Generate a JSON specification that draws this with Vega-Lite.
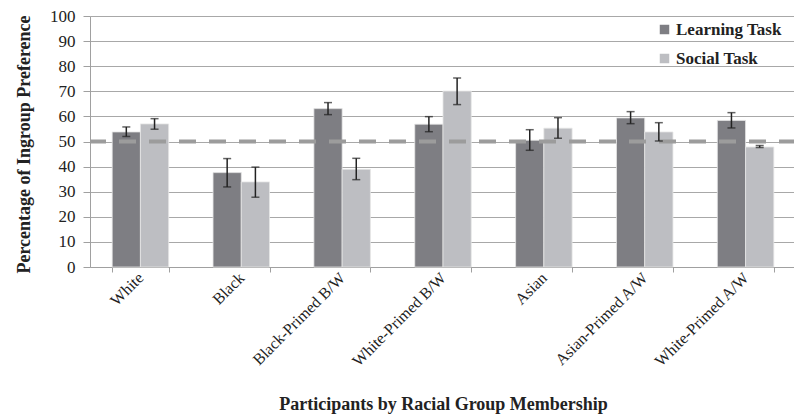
{
  "$schema": "https://vega.github.io/schema/vega-lite/v6.json",
  "width": 706,
  "height": 251,
  "autosize": {"type": "none"},
  "padding": {"left": 90, "top": 16, "right": 0, "bottom": 148},
  "background": "white",
  "config": {
    "view": {"stroke": null},
    "font": "Liberation Serif",
    "axis": {"labelFont": "Liberation Serif", "titleFont": "Liberation Serif", "labelColor": "#222222", "titleColor": "#222222"},
    "legend": {"labelFont": "Liberation Serif", "labelFontSize": 17, "labelFontWeight": "bold", "labelColor": "#222222"}
  },
  "data": {
    "values": [
      {"group": "White", "task": "Learning Task", "value": 53.8, "lo": 52.0, "hi": 55.8},
      {"group": "White", "task": "Social Task", "value": 57.0, "lo": 54.9, "hi": 59.1},
      {"group": "Black", "task": "Learning Task", "value": 37.6, "lo": 31.9, "hi": 43.2},
      {"group": "Black", "task": "Social Task", "value": 33.9, "lo": 27.8, "hi": 39.8},
      {"group": "Black-Primed B/W", "task": "Learning Task", "value": 63.1, "lo": 60.7, "hi": 65.5},
      {"group": "Black-Primed B/W", "task": "Social Task", "value": 38.9, "lo": 34.8, "hi": 43.3},
      {"group": "White-Primed B/W", "task": "Learning Task", "value": 56.9, "lo": 53.9, "hi": 59.9},
      {"group": "White-Primed B/W", "task": "Social Task", "value": 70.1, "lo": 64.7, "hi": 75.3},
      {"group": "Asian", "task": "Learning Task", "value": 50.5, "lo": 46.5, "hi": 54.7},
      {"group": "Asian", "task": "Social Task", "value": 55.3, "lo": 51.3, "hi": 59.5},
      {"group": "Asian-Primed A/W", "task": "Learning Task", "value": 59.4, "lo": 57.1, "hi": 61.9},
      {"group": "Asian-Primed A/W", "task": "Social Task", "value": 53.8, "lo": 50.2, "hi": 57.5},
      {"group": "White-Primed A/W", "task": "Learning Task", "value": 58.4, "lo": 55.4, "hi": 61.5},
      {"group": "White-Primed A/W", "task": "Social Task", "value": 47.8, "lo": 47.6, "hi": 48.4}
    ]
  },
  "layer": [
    {
      "mark": {"type": "bar", "stroke": "#e6e6e6", "strokeWidth": 0.8},
      "encoding": {
        "x": {
          "field": "group", "type": "nominal", "sort": null,
          "scale": {"paddingInner": 0.44, "paddingOuter": 0.22},
          "axis": {
            "title": "Participants by Racial Group Membership",
            "titleFontSize": 18, "titleFontWeight": "bold",
            "titleBaseline": "alphabetic", "titleY": 142,
            "labelAngle": -45, "labelFontSize": 16, "labelPadding": 3, "labelBaseline": "middle",
            "tickBand": "extent", "tickSize": 5, "tickColor": "#a0a0a0",
            "domainColor": "#a0a0a0", "grid": false
          }
        },
        "xOffset": {"field": "task", "type": "nominal", "scale": {"paddingInner": 0, "paddingOuter": 0}},
        "y": {
          "field": "value", "type": "quantitative",
          "scale": {"domain": [0, 100], "nice": false},
          "axis": {
            "title": "Percentage of Ingroup Preference",
            "titleFontSize": 18, "titleFontWeight": "bold",
            "titleBaseline": "alphabetic", "titleX": -61, "titleY": 128,
            "values": [0, 10, 20, 30, 40, 50, 60, 70, 80, 90, 100],
            "labelOverlap": false,
            "labelFontSize": 17, "labelPadding": 8, "tickSize": 7,
            "tickColor": "#a0a0a0", "domainColor": "#a0a0a0",
            "gridColor": "#a8a8a8", "gridWidth": 1.2
          }
        },
        "color": {
          "field": "task", "type": "nominal",
          "scale": {"domain": ["Learning Task", "Social Task"], "range": ["#7e7e83", "#bdbec2"]},
          "legend": {
            "title": null, "orient": "none", "legendX": 566, "legendY": 5,
            "symbolType": "square", "symbolSize": 90, "symbolStrokeWidth": 0,
            "labelFontSize": 17, "labelFontWeight": "bold", "labelColor": "#222222",
            "labelFont": "Liberation Serif", "rowPadding": 11, "labelOffset": 3
          }
        }
      }
    },
    {
      "data": {"values": [{"ref": 50}]},
      "mark": {"type": "rule", "color": "#9c9c9c", "strokeWidth": 4, "strokeDash": [17, 13]},
      "encoding": {
        "y": {
          "field": "ref", "type": "quantitative",
          "axis": {
            "title": "Percentage of Ingroup Preference",
            "titleFontSize": 18, "titleFontWeight": "bold",
            "titleBaseline": "alphabetic", "titleX": -61, "titleY": 128,
            "values": [0, 10, 20, 30, 40, 50, 60, 70, 80, 90, 100],
            "labelOverlap": false,
            "labelFontSize": 17, "labelPadding": 8, "tickSize": 7,
            "tickColor": "#a0a0a0", "domainColor": "#a0a0a0",
            "gridColor": "#a8a8a8", "gridWidth": 1.2
          }
        }
      }
    },
    {
      "mark": {"type": "rule", "color": "#222222", "strokeWidth": 1.5},
      "encoding": {
        "x": {
          "field": "group", "type": "nominal", "sort": null,
          "axis": {
            "title": "Participants by Racial Group Membership",
            "titleFontSize": 18, "titleFontWeight": "bold",
            "titleBaseline": "alphabetic", "titleY": 142,
            "labelAngle": -45, "labelFontSize": 16, "labelPadding": 3, "labelBaseline": "middle",
            "tickBand": "extent", "tickSize": 5, "tickColor": "#a0a0a0",
            "domainColor": "#a0a0a0", "grid": false
          }
        },
        "xOffset": {"field": "task", "type": "nominal"},
        "y": {
          "field": "lo", "type": "quantitative",
          "axis": {
            "title": "Percentage of Ingroup Preference",
            "titleFontSize": 18, "titleFontWeight": "bold",
            "titleBaseline": "alphabetic", "titleX": -61, "titleY": 128,
            "values": [0, 10, 20, 30, 40, 50, 60, 70, 80, 90, 100],
            "labelOverlap": false,
            "labelFontSize": 17, "labelPadding": 8, "tickSize": 7,
            "tickColor": "#a0a0a0", "domainColor": "#a0a0a0",
            "gridColor": "#a8a8a8", "gridWidth": 1.2
          }
        },
        "y2": {"field": "hi"}
      }
    },
    {
      "mark": {"type": "tick", "color": "#222222", "thickness": 1.5, "size": 8, "orient": "horizontal"},
      "encoding": {
        "x": {
          "field": "group", "type": "nominal", "sort": null,
          "axis": {
            "title": "Participants by Racial Group Membership",
            "titleFontSize": 18, "titleFontWeight": "bold",
            "titleBaseline": "alphabetic", "titleY": 142,
            "labelAngle": -45, "labelFontSize": 16, "labelPadding": 3, "labelBaseline": "middle",
            "tickBand": "extent", "tickSize": 5, "tickColor": "#a0a0a0",
            "domainColor": "#a0a0a0", "grid": false
          }
        },
        "xOffset": {"field": "task", "type": "nominal"},
        "y": {
          "field": "lo", "type": "quantitative",
          "axis": {
            "title": "Percentage of Ingroup Preference",
            "titleFontSize": 18, "titleFontWeight": "bold",
            "titleBaseline": "alphabetic", "titleX": -61, "titleY": 128,
            "values": [0, 10, 20, 30, 40, 50, 60, 70, 80, 90, 100],
            "labelOverlap": false,
            "labelFontSize": 17, "labelPadding": 8, "tickSize": 7,
            "tickColor": "#a0a0a0", "domainColor": "#a0a0a0",
            "gridColor": "#a8a8a8", "gridWidth": 1.2
          }
        }
      }
    },
    {
      "mark": {"type": "tick", "color": "#222222", "thickness": 1.5, "size": 8, "orient": "horizontal"},
      "encoding": {
        "x": {
          "field": "group", "type": "nominal", "sort": null,
          "axis": {
            "title": "Participants by Racial Group Membership",
            "titleFontSize": 18, "titleFontWeight": "bold",
            "titleBaseline": "alphabetic", "titleY": 142,
            "labelAngle": -45, "labelFontSize": 16, "labelPadding": 3, "labelBaseline": "middle",
            "tickBand": "extent", "tickSize": 5, "tickColor": "#a0a0a0",
            "domainColor": "#a0a0a0", "grid": false
          }
        },
        "xOffset": {"field": "task", "type": "nominal"},
        "y": {
          "field": "hi", "type": "quantitative",
          "axis": {
            "title": "Percentage of Ingroup Preference",
            "titleFontSize": 18, "titleFontWeight": "bold",
            "titleBaseline": "alphabetic", "titleX": -61, "titleY": 128,
            "values": [0, 10, 20, 30, 40, 50, 60, 70, 80, 90, 100],
            "labelOverlap": false,
            "labelFontSize": 17, "labelPadding": 8, "tickSize": 7,
            "tickColor": "#a0a0a0", "domainColor": "#a0a0a0",
            "gridColor": "#a8a8a8", "gridWidth": 1.2
          }
        }
      }
    }
  ]
}
